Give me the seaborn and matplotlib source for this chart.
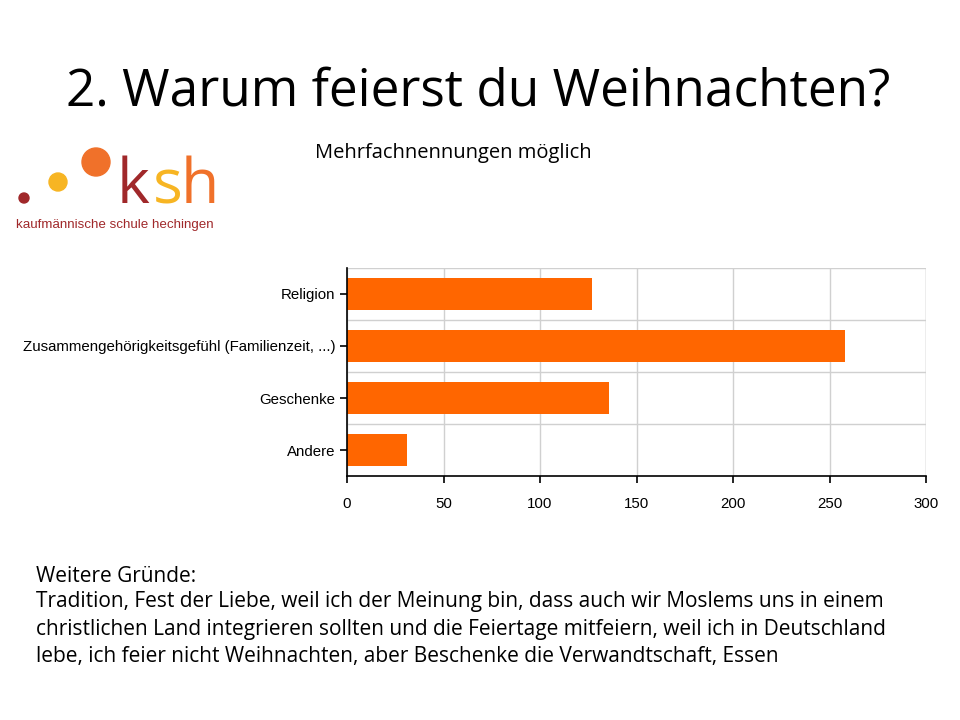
import matplotlib
matplotlib.use("Agg")
import matplotlib.pyplot as plt
import seaborn as sns
import pandas as pd
from matplotlib.patches import Circle

# Data
categories = ["Religion", "Zusammengehörigkeitsgefühl (Familienzeit, ...)", "Geschenke", "Andere"]
counts = [127, 258, 136, 31]
x_ticks = [0, 50, 100, 150, 200, 250, 300]

df = pd.DataFrame({"Grund": categories, "Anzahl": counts})

W, H = 960, 720
fig = plt.figure(figsize=(9.6, 7.2), dpi=100)
fig.patch.set_facecolor("white")

# Title and subtitle
fig.text(478 / W, 1 - 92 / H, "2. Warum feierst du Weihnachten?", ha="center", va="center",
         fontsize=37, family="Open Sans")
fig.text(453 / W, 1 - 153 / H, "Mehrfachnennungen möglich", ha="center", va="center",
         fontsize=14.5, family="Open Sans")

# Logo
logo = fig.add_axes([0, 1 - 240 / H, 230 / W, 100 / H])
logo.set_xlim(0, 230)
logo.set_ylim(100, 0)
logo.set_aspect("equal")
logo.axis("off")
logo.add_patch(Circle((24, 58), 5, color="#a0282a"))
logo.add_patch(Circle((58, 42), 9, color="#f7b523"))
logo.add_patch(Circle((96, 22), 14, color="#f0712a"))
logo.text(117, 63, "k", fontsize=45, color="#a0282a", family="Open Sans", va="baseline")
logo.text(153, 63, "s", fontsize=45, color="#f7b523", family="Open Sans", va="baseline")
logo.text(181, 63, "h", fontsize=45, color="#f0712a", family="Open Sans", va="baseline")
logo.text(16, 85, "kaufmännische schule hechingen", fontsize=9.6, color="#a0282a",
          family="Liberation Sans", va="center")

# Chart
ax = fig.add_axes([347 / W, 1 - 476 / H, (926 - 347) / W, (476 - 268) / H])
sns.barplot(data=df, x="Anzahl", y="Grund", color="#ff6600", saturation=1, width=0.6, ax=ax)
ax.set_xlim(0, 300)
ax.set_ylim(3.5, -0.5)
ax.set_xticks(x_ticks)
ax.set_xlabel("")
ax.set_ylabel("")
ax.tick_params(axis="both", labelsize=10.8, length=5, width=1.2, color="black")
for lab in ax.get_xticklabels() + ax.get_yticklabels():
    lab.set_family("Liberation Sans")
ax.tick_params(axis="x", pad=10)
ax.set_axisbelow(True)
ax.grid(axis="x", color="#d0d0d0", lw=1)
for b in [0.5, 1.5, 2.5, -0.5]:
    ax.axhline(b, color="#d0d0d0", lw=1, zorder=0)
ax.axvline(300, color="#d0d0d0", lw=1, zorder=0)
for s in ["top", "right"]:
    ax.spines[s].set_visible(False)
for s in ["left", "bottom"]:
    ax.spines[s].set_color("black")
    ax.spines[s].set_linewidth(1.2)

# Footer text
fig.text(36 / W, 1 - 577 / H, "Weitere Gründe:", fontsize=15, family="Open Sans", va="center")
body = ("Tradition, Fest der Liebe, weil ich der Meinung bin, dass auch wir Moslems uns in einem\n"
        "christlichen Land integrieren sollten und die Feiertage mitfeiern, weil ich in Deutschland\n"
        "lebe, ich feier nicht Weihnachten, aber Beschenke die Verwandtschaft, Essen")
fig.text(36 / W, 1 - 591 / H, body, fontsize=15, family="Open Sans", va="top", linespacing=1.42)

fig.savefig("out.png", dpi=100)
